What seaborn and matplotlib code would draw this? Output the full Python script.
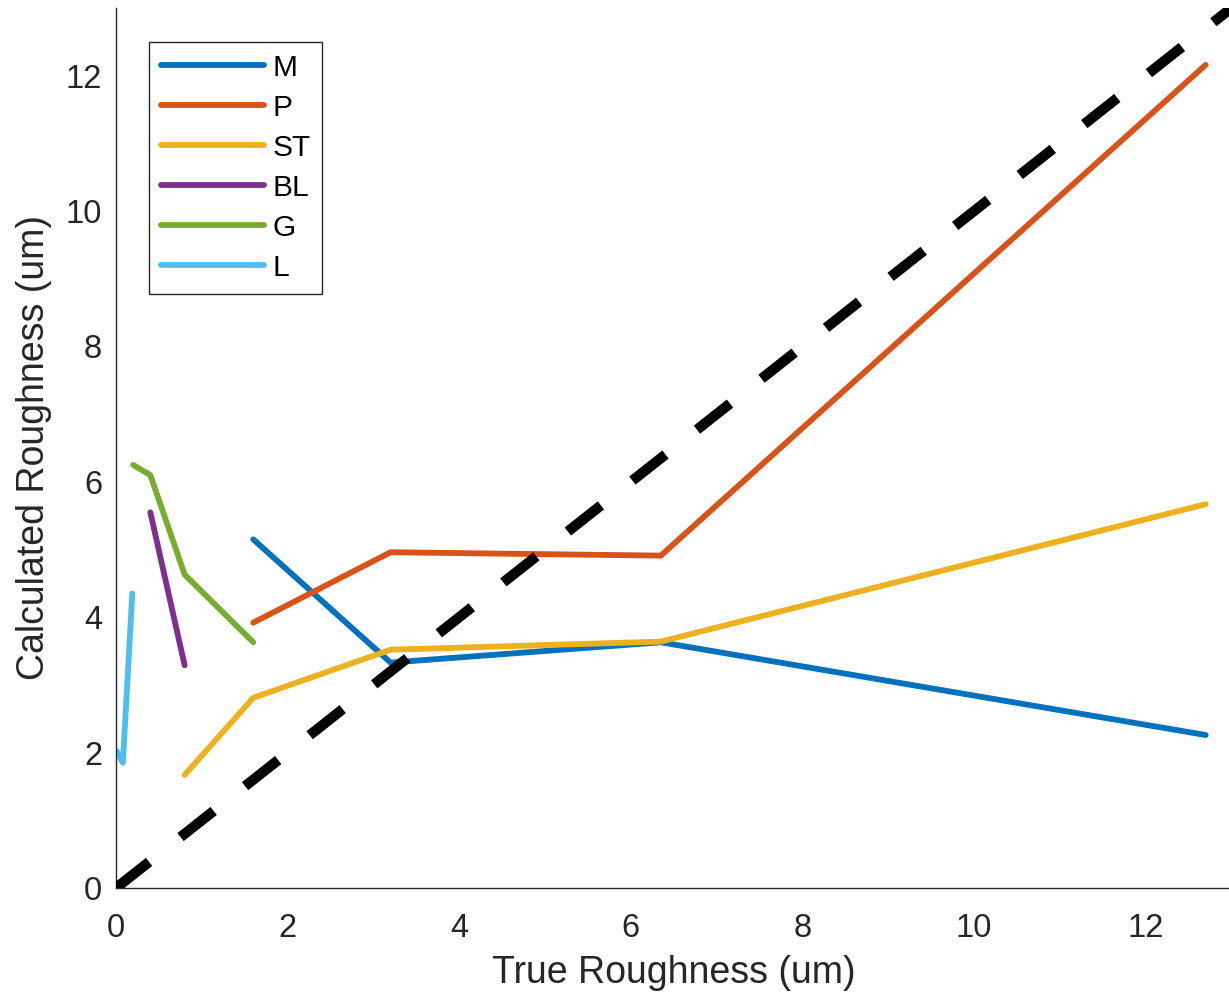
import matplotlib
matplotlib.use("Agg")
import matplotlib.pyplot as plt
import seaborn as sns
import pandas as pd
import numpy as np

# ---- data ----
m_x = [1.6, 3.2, 6.35, 12.7]
m_y = [5.15, 3.33, 3.63, 2.26]
p_x = [1.6, 3.2, 6.35, 12.7]
p_y = [3.92, 4.96, 4.91, 12.16]
st_x = [0.8, 1.6, 3.2, 6.35, 12.7]
st_y = [1.67, 2.81, 3.52, 3.64, 5.67]
bl_x = [0.4, 0.8]
bl_y = [5.55, 3.29]
g_x = [0.2, 0.4, 0.8, 1.6]
g_y = [6.25, 6.1, 4.63, 3.63]
l_x = [0.01, 0.08, 0.19]
l_y = [2.02, 1.85, 4.35]
ref_x = [0, 13]
ref_y = [0, 13]

series_names = ["M", "P", "ST", "BL", "G", "L"]
series_x = [m_x, p_x, st_x, bl_x, g_x, l_x]
series_y = [m_y, p_y, st_y, bl_y, g_y, l_y]
colors = ["#0072BD", "#D95319", "#EDB120", "#7E2F8E", "#77AC30", "#4DBEEE"]

x_ticks = [0, 2, 4, 6, 8, 10, 12]
y_ticks = [0, 2, 4, 6, 8, 10, 12]

rows = []
for name, xs, ys in zip(series_names, series_x, series_y):
    for i, (xv, yv) in enumerate(zip(xs, ys)):
        rows.append({"series": name, "order": i, "x": xv, "y": yv})
df = pd.DataFrame(rows)

sns.set_style("white")
plt.rcParams["font.family"] = ["Liberation Sans", "DejaVu Sans"]

fig = plt.figure(figsize=(12.29, 9.98), dpi=100)
ax = fig.add_axes([116 / 1229, 110 / 998, 1115.4 / 1229, 880 / 998])

sns.lineplot(data=df, x="x", y="y", hue="series", hue_order=series_names,
             palette=dict(zip(series_names, colors)), sort=False,
             estimator=None, units="series", linewidth=4.2, ax=ax,
             legend=False)
ref = pd.DataFrame({"x": ref_x, "y": ref_y})
ax.plot(ref["x"], ref["y"], color="black", linewidth=7.4,
        dashes=(4.1, 3.9), solid_capstyle="butt", dash_capstyle="butt",
        zorder=5)

ax.set_xlim(0, 13)
ax.set_ylim(0, 13)
ax.set_xticks(x_ticks)
ax.set_yticks(y_ticks)
ax.set_xticklabels([str(t) for t in x_ticks])
ax.set_yticklabels([str(t) for t in y_ticks])

for s in ["top", "right"]:
    ax.spines[s].set_visible(False)
for s in ["left", "bottom"]:
    ax.spines[s].set_color("#262626")
    ax.spines[s].set_linewidth(1.0)

ax.tick_params(axis="both", direction="in", length=7.5, width=1.0,
               color="#262626", labelcolor="#262626", labelsize=23.5)
ax.tick_params(axis="x", pad=18)
ax.tick_params(axis="y", pad=10)

ax.set_xlabel("True Roughness (um)", fontsize=27, color="#262626", labelpad=8)
ax.set_ylabel("Calculated Roughness (um)", fontsize=27, color="#262626", labelpad=10)

from matplotlib.lines import Line2D
handles = [Line2D([0], [0], color=c, linewidth=4.2) for c in colors]
leg = ax.legend(handles, series_names, loc="upper left",
                bbox_to_anchor=(149 / 1229, (998 - 42) / 998),
                bbox_transform=fig.transFigure,
                fontsize=21.5, handlelength=3.45, handletextpad=0.28,
                labelspacing=0.4, borderpad=0.4, borderaxespad=0,
                frameon=True, fancybox=False, framealpha=1)
leg.get_frame().set_edgecolor("#262626")
leg.get_frame().set_linewidth(1.0)
for t in leg.get_texts():
    t.set_color("#000000")

fig.savefig("out.png", dpi=100, facecolor="white")
